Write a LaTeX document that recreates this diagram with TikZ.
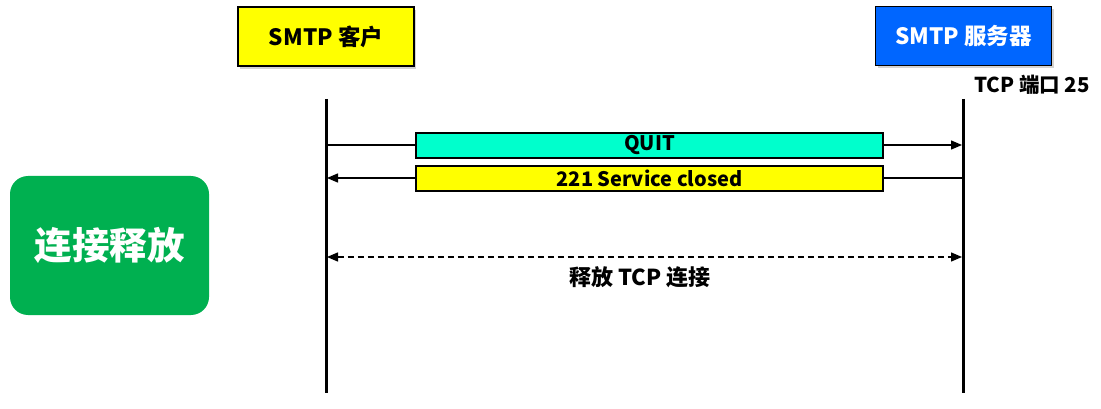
\documentclass[tikz,border=0pt]{standalone}
\usepackage{fontspec}
\setmainfont{Noto Sans CJK SC}
\usetikzlibrary{arrows.meta,shadows}
\definecolor{cyel}{HTML}{FFFF00}
\definecolor{cblue}{HTML}{0066FF}
\definecolor{caqua}{HTML}{00FFCC}
\definecolor{cgreen}{HTML}{00B050}
\tikzset{
  hdr/.style={draw=black,line width=1.2pt,minimum width=176pt,minimum height=59pt,inner sep=0pt,font=\fontsize{22.5}{26}\selectfont\bfseries,drop shadow={shadow xshift=2pt,shadow yshift=-3pt,opacity=0.35}},
  msg/.style={draw=black,line width=1.6pt,minimum width=467pt,minimum height=25pt,inner sep=0pt,font=\fontsize{20}{22}\selectfont\bfseries},
  life/.style={line width=3pt},
  tip/.tip={Triangle[length=11pt,width=9pt]},
  arr/.style={line width=1.4pt,-tip},
  lbl/.style={font=\fontsize{20.5}{22}\selectfont\bfseries,inner sep=0pt}
}
\begin{document}
\begin{tikzpicture}[x=1pt,y=-1pt]
\useasboundingbox (0,0) rectangle (1101,409);
\node[hdr,fill=cyel] (client) at (326,36.5) {SMTP 客户};
\node[hdr,fill=cblue,text=white] (server) at (963.5,36) {SMTP 服务器};
\node[lbl] (port) at (1032,85) {TCP 端口 25};
\coordinate (lt) at (326,99); \coordinate (lb) at (326,393);
\coordinate (rt) at (963,99); \coordinate (rb) at (963,393);
\draw[life] (lt) -- (lb);
\draw[life] (rt) -- (rb);
\coordinate (q1) at (326,145); \coordinate (q2) at (962,145);
\coordinate (r1) at (963,178); \coordinate (r2) at (327,178);
\draw[arr] (q1) -- (q2);
\draw[arr] (r1) -- (r2);
\node[msg,fill=caqua] (quit) at (649.5,145.5) {QUIT};
\node[msg,fill=cyel] (closed) at (649.5,178.5) {221 Service closed};
\coordinate (d1) at (327,257); \coordinate (d2) at (962,257);
\draw[line width=1.4pt,dash pattern=on 6pt off 4pt,tip-tip] (d1) -- (d2);
\node[lbl,font=\fontsize{22}{24}\selectfont\bfseries] (rel) at (640,277) {释放 TCP 连接};
\node[fill=cgreen,rounded corners=18pt,minimum width=199pt,minimum height=139pt,inner sep=0pt,text=white,font=\fontsize{37.5}{40}\selectfont\bfseries] (phase) at (109.5,245.5) {连接释放};
\end{tikzpicture}
\end{document}
